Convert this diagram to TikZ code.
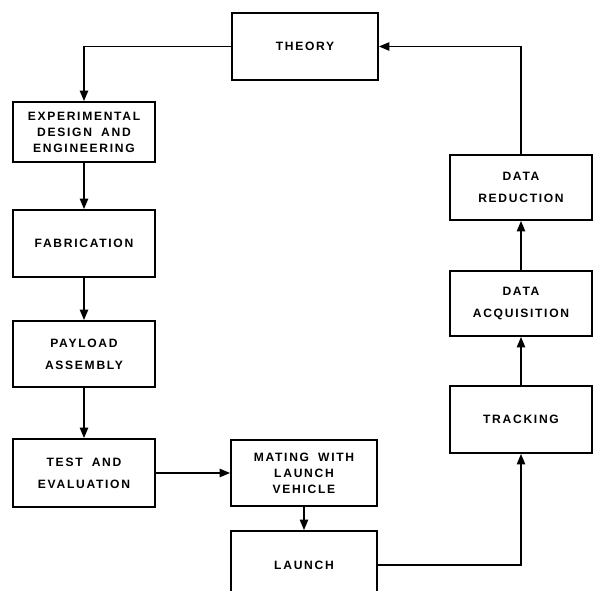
\documentclass[tikz,border=0pt]{standalone}
\usepackage{fontspec}
\newfontfamily\boxfont[LetterSpace=14,WordSpace=1.8]{Liberation Sans}
\usetikzlibrary{arrows.meta}
\begin{document}
\begin{tikzpicture}[x=0.025cm,y=-0.025cm,
  every node/.style={font=\boxfont\bfseries\fontsize{8.6}{11.4}\selectfont,align=center},
  loose/.style={font=\boxfont\bfseries\fontsize{8.6}{15.5}\selectfont},
  stage/.style={draw,line width=1.3pt,inner sep=0pt,minimum width=#1*0.025cm},
  flow/.style={line width=1pt,-{Triangle[length=7.5pt,width=6pt]}}]
\useasboundingbox (0,0) rectangle (596,590);
\node[stage=146,minimum height=67*0.025cm] (theory) at (305,46.5) {THEORY};
\node[stage=142,minimum height=60*0.025cm] (expdesign) at (84,132) {EXPERIMENTAL\\DESIGN AND\\ENGINEERING};
\node[stage=142,minimum height=67*0.025cm] (fabric) at (84,243.5) {FABRICATION};
\node[stage=142,minimum height=66*0.025cm,loose] (payload) at (84,354) {PAYLOAD\\ASSEMBLY};
\node[stage=142,minimum height=68*0.025cm,loose] (testeval) at (84,473) {TEST AND\\EVALUATION};
\node[stage=146,minimum height=66*0.025cm] (mating) at (304,473) {MATING WITH\\LAUNCH\\VEHICLE};
\node[stage=146,minimum height=68*0.025cm] (launch) at (304,565) {LAUNCH};
\node[stage=142,minimum height=67*0.025cm] (tracking) at (521,419.5) {TRACKING};
\node[stage=142,minimum height=65*0.025cm,loose] (dataacq) at (521,303.5) {DATA\\ACQUISITION};
\node[stage=142,minimum height=65*0.025cm,loose] (datared) at (521,187.5) {DATA\\REDUCTION};
\draw[flow] (theory.west) -| (expdesign.north);
\draw[flow] (expdesign) -- (fabric);
\draw[flow] (fabric) -- (payload);
\draw[flow] (payload) -- (testeval);
\draw[flow] (testeval.east) -- (mating.west);
\draw[flow] (mating) -- (launch);
\draw[flow] (launch.east) -| (tracking.south);
\draw[flow] (tracking) -- (dataacq);
\draw[flow] (dataacq) -- (datared);
\draw[flow] (datared.north) |- (theory.east);
\end{tikzpicture}
\end{document}
